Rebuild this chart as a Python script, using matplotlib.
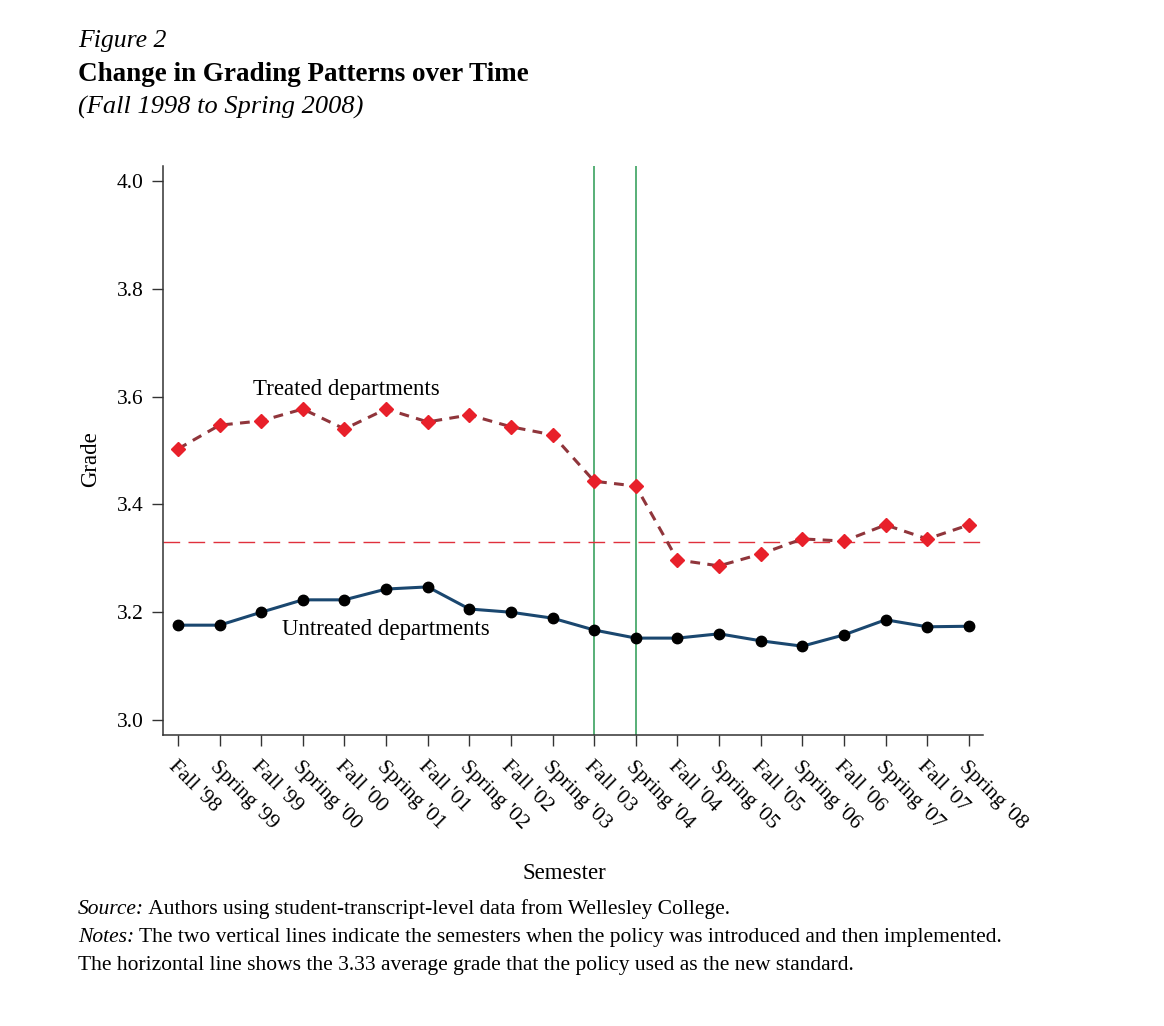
import numpy as np
import matplotlib
matplotlib.use("Agg")
import matplotlib.pyplot as plt
from matplotlib.transforms import ScaledTranslation

plt.rcParams['font.family'] = ['Liberation Serif', 'DejaVu Serif']

semesters = ["Fall '98", "Spring '99", "Fall '99", "Spring '00", "Fall '00",
             "Spring '01", "Fall '01", "Spring '02", "Fall '02", "Spring '03",
             "Fall '03", "Spring '04", "Fall '04", "Spring '05", "Fall '05",
             "Spring '06", "Fall '06", "Spring '07", "Fall '07", "Spring '08"]

treated = [3.503, 3.547, 3.555, 3.577, 3.540, 3.577, 3.553, 3.566, 3.544, 3.529,
           3.443, 3.434, 3.297, 3.286, 3.308, 3.336, 3.332, 3.362, 3.336, 3.362]

untreated = [3.176, 3.176, 3.200, 3.223, 3.223, 3.243, 3.247, 3.206, 3.200, 3.189,
             3.167, 3.152, 3.152, 3.160, 3.147, 3.137, 3.158, 3.186, 3.173, 3.174]

policy_semesters = [10, 11]   # Fall '03 introduced, Spring '04 implemented
standard = 3.33
yticks = [3.0, 3.2, 3.4, 3.6, 3.8, 4.0]

fig = plt.figure(figsize=(11.64, 10.26), dpi=100)
ax = fig.add_axes([0.140, 0.2836, 0.7045, 0.5546])

x = np.arange(len(semesters))

for s in policy_semesters:
    ax.axvline(s, color='#2a9a52', lw=1.1, zorder=1)
ax.axhline(standard, color='#e0303c', lw=1.0, dashes=(12, 6), zorder=1)

ax.plot(x, treated, color='#90353b', lw=2.2, dashes=(3.2, 2.4), zorder=2)
ax.plot(x, treated, ls='none', marker='D', ms=7.5, color='#e8202a', zorder=3)
ax.plot(x, untreated, color='#1a476f', lw=2.2, marker='o', ms=7.5,
        mfc='black', mec='black', zorder=3)

ax.text(4.04, 3.614, 'Treated departments', ha='center', va='center', fontsize=16.5)
ax.text(5.0, 3.168, 'Untreated departments', ha='center', va='center', fontsize=16.5)

ax.set_xlim(-0.36, 19.34)
ax.set_ylim(2.9722, 4.0278)
ax.set_yticks(yticks)
ax.set_yticklabels(['%.1f' % v for v in yticks])
ax.set_xticks(x)
ax.set_xticklabels(semesters, rotation=-45, ha='left', va='top',
                   rotation_mode='anchor')
offset = ScaledTranslation(-11 / 100, -1 / 100, fig.dpi_scale_trans)
for lab in ax.get_xticklabels():
    lab.set_transform(lab.get_transform() + offset)

ax.tick_params(axis='both', direction='out', length=8, width=1, labelsize=15.5,
               color='#333333')
ax.tick_params(axis='y', pad=6)
ax.tick_params(axis='x', pad=8)
for side in ['top', 'right']:
    ax.spines[side].set_visible(False)
for side in ['left', 'bottom']:
    ax.spines[side].set_color('#333333')
    ax.spines[side].set_linewidth(1.1)

ax.set_ylabel('Grade', fontsize=16.5)
ax.yaxis.set_label_coords(-0.075, 0.485)
ax.set_xlabel('Semester', fontsize=16.5)
ax.xaxis.set_label_coords(0.49, -0.225)

fig.text(78 / 1164, 1 - 47 / 1026, 'Figure 2', fontsize=18.5, style='italic',
         va='baseline')
fig.text(78 / 1164, 1 - 81 / 1026, 'Change in Grading Patterns over Time',
         fontsize=19.5, weight='bold', va='baseline')
fig.text(78 / 1164, 1 - 114 / 1026, '(Fall 1998 to Spring 2008)', fontsize=19,
         style='italic', va='baseline')

footer = [('Source:', ' Authors using student-transcript-level data from Wellesley College.'),
          ('Notes:', ' The two vertical lines indicate the semesters when the policy was introduced and then implemented.'),
          ('', 'The horizontal line shows the 3.33 average grade that the policy used as the new standard.')]
renderer = fig.canvas.get_renderer()
for i, (head, body) in enumerate(footer):
    yb = 1 - (914 + 28 * i) / 1026
    shift = 0
    if head:
        t = fig.text(78 / 1164, yb, head, fontsize=15.5, style='italic', va='baseline')
        shift = t.get_window_extent(renderer).width
    fig.text(78 / 1164 + shift / 1164, yb, body, fontsize=15.5, va='baseline')

fig.savefig('out.png', dpi=100, facecolor='white')
